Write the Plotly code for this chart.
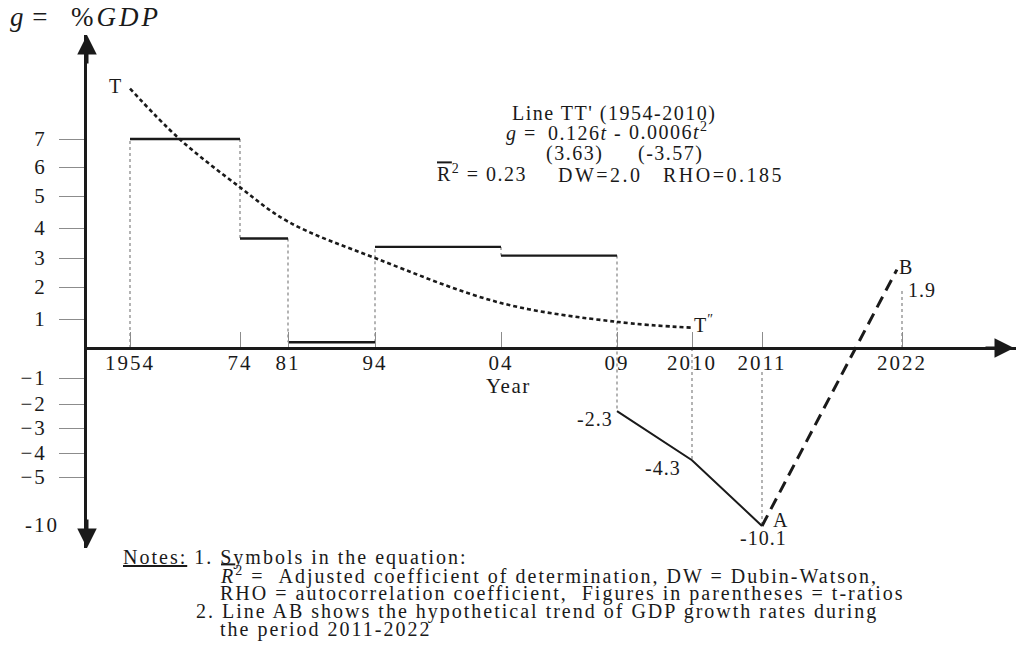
import plotly.graph_objects as go

# ---------------- data ----------------
# x tick years and their printed labels
YEAR_TICKS = [1954, 1974, 1981, 1994, 2004, 2009, 2010, 2011, 2022]
YEAR_TICK_TEXT = ["1954", "74", "81", "94", "04", "09", "2010", "2011", "2022"]

# y tick values (growth, % of GDP) and their printed labels
G_TICKS = [7, 6, 5, 4, 3, 2, 1, -1, -2, -3, -4, -5]
G_TICK_TEXT = ["7", "6", "5", "4", "3", "2", "1", "\u22121", "\u22122", "\u22123", "\u22124", "\u22125"]

# average growth over each period
PERIOD_START = [1954, 1974, 1981, 1994, 2004]
PERIOD_END = [1974, 1981, 1994, 2004, 2009]
PERIOD_GROWTH = [7.0, 3.65, 0.2, 3.37, 3.08]

# annual growth in the crisis years
RECESSION_YEARS = [2009, 2010, 2011]
RECESSION_GROWTH = [-2.3, -4.3, -10.1]

# fitted trend TT' (1954-2010)
TREND_YEARS = [1954, 1963, 1974, 1981, 1994, 2004, 2009, 2010]
TREND_GROWTH = [8.8, 7.0, 5.3, 4.2, 3.0, 1.5, 0.9, 0.7]

# hypothetical recovery line AB (2011-2022)
AB_YEARS = [2011, 2021.6]
AB_GROWTH = [-10.1, 2.6]

# actual 2022 growth
YEAR_2022 = 2022
GROWTH_2022 = 1.9

# ---------------- schematic (piecewise) scales ----------------
X_SCALE_YEARS = YEAR_TICKS
X_SCALE_POS = [130, 240, 288, 375, 501, 617, 692, 762, 902]
Y_SCALE_G = [-10, -5, -4, -3, -2, -1, 0, 1, 2, 3, 4, 5, 6, 7]
Y_SCALE_POS = [525, 477, 453, 428, 404, 378, 348, 319, 287, 258, 228, 196, 167, 139]

W, H = 1016, 648
NB = "\u00a0"


def piecewise(v, src, dst):
    """Linear interpolation with linear extrapolation at both ends."""
    if v <= src[0]:
        i = 0
    elif v >= src[-1]:
        i = len(src) - 2
    else:
        i = max(k for k in range(len(src) - 1) if src[k] <= v)
    x0, x1, y0, y1 = src[i], src[i + 1], dst[i], dst[i + 1]
    return y0 + (v - x0) * (y1 - y0) / (x1 - x0)


def sx(year):
    return piecewise(year, X_SCALE_YEARS, X_SCALE_POS)


def sy(g):
    return piecewise(g, Y_SCALE_G, Y_SCALE_POS)


def xs(vals):
    return [None if v is None else sx(v) for v in vals]


def ys(vals):
    return [None if v is None else sy(v) for v in vals]


def wide(s, ls):
    """Wrap text in a span with extra letter spacing (px)."""
    return '<span style="letter-spacing:%spx">%s</span>' % (ls, s)


X0_PX, Y_TOP_PX, Y_BOT_PX = 87, 35, 548
AXIS_Y_PX = sy(0)

FONT = "Liberation Serif, Times New Roman, serif"
INK = "#1a1a1a"
GUIDE = "#8c8c8c"

fig = go.Figure()

# dotted guide lines at each change of level
bounds = PERIOD_START + [RECESSION_YEARS[0]]
before = [0.0] + PERIOD_GROWTH
after = PERIOD_GROWTH + [RECESSION_GROWTH[0]]
gx, gy = [], []
for b, lo, hi in zip(bounds, before, after):
    gx += [b, b, None]
    gy += [lo, hi, None]
LABEL_CLEAR = -0.8  # keeps the 2011 guide below its tick label
for yr, g, top in [(RECESSION_YEARS[1], RECESSION_GROWTH[1], 0.0),
                   (RECESSION_YEARS[2], RECESSION_GROWTH[2], LABEL_CLEAR),
                   (YEAR_2022, GROWTH_2022, 0.0)]:
    gx += [yr, yr, None]
    gy += [top, g, None]
fig.add_trace(go.Scatter(x=xs(gx), y=ys(gy), mode="lines",
                         line=dict(color=GUIDE, width=1.3, dash="dot"),
                         hoverinfo="skip", showlegend=False))

# period averages (horizontal steps)
px_, py_ = [], []
for s, e, g in zip(PERIOD_START, PERIOD_END, PERIOD_GROWTH):
    px_ += [s, e, None]
    py_ += [g, g, None]
fig.add_trace(go.Scatter(x=xs(px_), y=ys(py_), mode="lines",
                         line=dict(color=INK, width=2.4),
                         showlegend=False, name="Period average"))

# crisis years
fig.add_trace(go.Scatter(x=xs(RECESSION_YEARS), y=ys(RECESSION_GROWTH), mode="lines",
                         line=dict(color=INK, width=2),
                         showlegend=False, name="2009-2011"))

# trend TT'
fig.add_trace(go.Scatter(x=xs(TREND_YEARS), y=ys(TREND_GROWTH), mode="lines",
                         line=dict(color=INK, width=2.6, dash="4px,3px", shape="spline", smoothing=1.0),
                         showlegend=False, name="TT'"))

# hypothetical line AB
fig.add_trace(go.Scatter(x=xs(AB_YEARS), y=ys(AB_GROWTH), mode="lines",
                         line=dict(color=INK, width=3, dash="12px,7px"),
                         showlegend=False, name="AB"))


def P(x, y):
    return x / W, 1 - y / H


ann = []


def text(s, x, y, size=20, xanchor="left", ls=1.5):
    ax_, ay_ = P(x, y)
    ann.append(dict(text=wide(s, ls), x=ax_, y=ay_, xref="paper", yref="paper",
                    xanchor=xanchor, yanchor="middle", showarrow=False,
                    borderpad=0,
                    font=dict(family=FONT, size=size, color=INK)))


def label_at(s, year, g, dx, dy, size=20, xanchor="left"):
    text(s, sx(year) + dx, sy(g) + dy, size=size, xanchor=xanchor, ls=1)


# axis arrowheads
for (x, y, ax_, ay_) in [(X0_PX, Y_TOP_PX, X0_PX, Y_TOP_PX + 30),
                         (X0_PX, Y_BOT_PX, X0_PX, Y_BOT_PX - 30),
                         (W - 2, AXIS_Y_PX, W - 32, AXIS_Y_PX)]:
    ann.append(dict(x=x, y=y, ax=ax_, ay=ay_, xref="x", yref="y", axref="x", ayref="y",
                    text="", showarrow=True, arrowhead=2, arrowsize=1.3,
                    arrowwidth=3, arrowcolor=INK))

# titles / labels
text("<i>g</i> =", 9, 17, size=27, ls=1)
text("%<i>GDP</i>", 70, 17, size=27, ls=3)
text("Year", 508, 386, size=21, xanchor="center", ls=1.5)
text("-10", 42, sy(-10), size=21, xanchor="center", ls=2)

# equation block
text("Line TT' (1954-2010)", 614, 113, xanchor="center")
text("<i>g</i> =", 505, 133)
text("0.126<i>t</i> -", 547, 133)
text("0.0006<i>t</i><sup>2</sup>", 628, 131)
text("(3.63)", 574, 154, xanchor="center")
text("(-3.57)", 670, 154, xanchor="center")
text('<span style="text-decoration:overline">R</span><sup>2</sup> = 0.23', 436, 173)
text("DW=2.0", 557, 175, ls=2.5)
text("RHO=0.185", 662, 175, ls=2.5)

# point labels
text("T", 115, sy(TREND_GROWTH[0]) - 3, size=20, xanchor="center", ls=0)
label_at("T<sup>\u2033</sup>", TREND_YEARS[-1], TREND_GROWTH[-1], 1, -4)
label_at("%.1f" % RECESSION_GROWTH[0], RECESSION_YEARS[0], RECESSION_GROWTH[0], -3, 8, xanchor="right")
label_at("%.1f" % RECESSION_GROWTH[1], RECESSION_YEARS[1], RECESSION_GROWTH[1], -29, 8, xanchor="center")
label_at("A", RECESSION_YEARS[2], RECESSION_GROWTH[2], 10, -6)
label_at("%.1f" % RECESSION_GROWTH[2], RECESSION_YEARS[2], RECESSION_GROWTH[2], 1, 12, xanchor="center")
label_at("B", AB_YEARS[1], AB_GROWTH[1], 1, -3)
label_at("%.1f" % GROWTH_2022, YEAR_2022, GROWTH_2022, 5, 0)

# notes
NOTE_SIZE, NOTE_LS = 20, 2.0
text("<u>Notes:</u> 1. Symbols in the equation:", 122, 557, size=NOTE_SIZE, ls=NOTE_LS)
text('<i><span style="text-decoration:overline">R</span></i><sup>2</sup> =' + NB * 2 +
     "Adjusted coefficient of determination, DW = Dubin-Watson,", 219, 575, size=NOTE_SIZE, ls=NOTE_LS)
text("RHO = autocorrelation coefficient," + NB * 2 + "Figures in parentheses = t-ratios",
     219, 593, size=NOTE_SIZE, ls=NOTE_LS)
text("2. Line AB shows the hypothetical trend of GDP growth rates during", 195, 611,
     size=NOTE_SIZE, ls=NOTE_LS)
text("the period 2011-2022", 219, 629, size=NOTE_SIZE, ls=NOTE_LS)

fig.update_layout(
    width=W, height=H,
    margin=dict(l=0, r=0, t=0, b=0),
    paper_bgcolor="white", plot_bgcolor="white",
    showlegend=False,
    annotations=ann,
    xaxis=dict(
        domain=[X0_PX / W, 1.0], range=[X0_PX, W],
        anchor="free", position=1 - AXIS_Y_PX / H,
        showline=True, linewidth=3, linecolor=INK,
        showgrid=False, zeroline=False,
        tickmode="array", tickvals=xs(YEAR_TICKS),
        ticktext=[wide(t, 2) for t in YEAR_TICK_TEXT],
        ticks="inside", ticklen=15, tickwidth=1, tickcolor=GUIDE,
        tickfont=dict(family=FONT, size=21, color=INK),
        ticklabelstandoff=-5,
    ),
    yaxis=dict(
        domain=[1 - Y_BOT_PX / H, 1 - Y_TOP_PX / H], range=[Y_BOT_PX, Y_TOP_PX],
        anchor="x",
        showline=True, linewidth=3, linecolor=INK,
        showgrid=False, zeroline=False,
        tickmode="array", tickvals=ys(G_TICKS),
        ticktext=[wide(t, 2) for t in G_TICK_TEXT],
        ticks="outside", ticklen=25, tickwidth=1, tickcolor=GUIDE,
        tickfont=dict(family=FONT, size=21, color=INK),
        ticklabelstandoff=8,
    ),
)

fig.write_html("out.html")
